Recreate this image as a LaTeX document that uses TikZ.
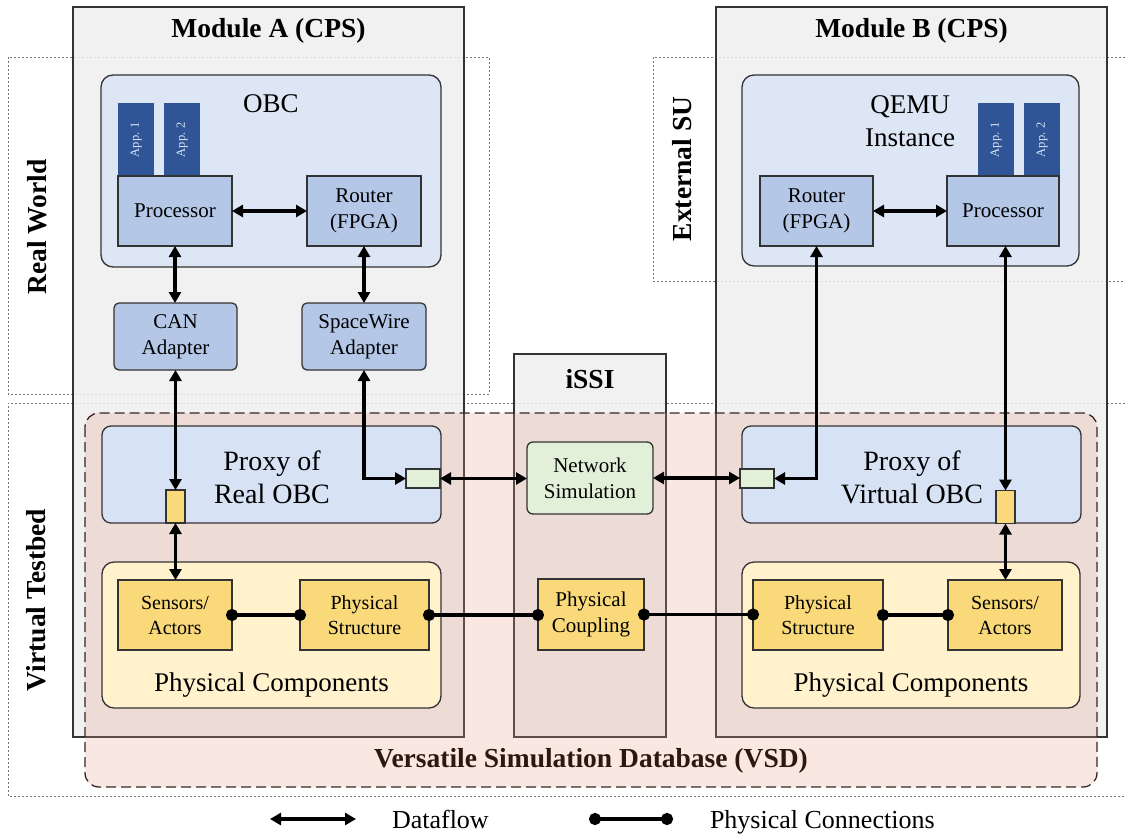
\documentclass[tikz,border=0pt]{standalone}
\usepackage{fontspec}
\setmainfont{Liberation Serif}
\usetikzlibrary{arrows.meta,calc}
\definecolor{modfill}{HTML}{EEEEEE}
\definecolor{obcfill}{HTML}{DCE6F4}
\definecolor{procfill}{HTML}{B4C7E7}
\definecolor{appblue}{HTML}{2F5597}
\definecolor{apptext}{HTML}{DDE6F5}
\definecolor{proxyfill}{HTML}{D7E3F5}
\definecolor{pcfill}{HTML}{FFF2CC}
\definecolor{yelfill}{HTML}{F9D97A}
\definecolor{grnfill}{HTML}{E2F0D9}
\definecolor{vsdfill}{HTML}{E6A08A}
\definecolor{vsdline}{HTML}{3A2520}
\definecolor{vsdtext}{HTML}{2E170F}
\newcommand{\fsz}[2]{\fontsize{#1}{#2}\selectfont}
\begin{document}
\begin{tikzpicture}[x=1pt,y=-1pt,
  every node/.style={inner sep=0pt, outer sep=0pt},
  dotbox/.style={draw=black!55, line width=0.8pt, dash pattern=on 2pt off 2pt},
  modbox/.style={draw=black!80, line width=1.3pt, fill=modfill, fill opacity=0.85},
  blk/.style={draw=black!80, line width=1.3pt},
  obcbox/.style={blk, fill=obcfill, rounded corners=12pt},
  procbox/.style={blk, fill=procfill, font=\fsz{21}{26}, align=center},
  adapt/.style={blk, fill=procfill, rounded corners=5pt, font=\fsz{21}{26}, align=center},
  appbox/.style={fill=appblue, text=apptext, font=\fsz{12.5}{14}},
  proxybox/.style={blk, fill=proxyfill, rounded corners=9pt},
  pcbox/.style={blk, fill=pcfill, rounded corners=12pt},
  yelbox/.style={blk, fill=yelfill, font=\fsz{20}{25}, align=center},
  netbox/.style={blk, fill=grnfill, rounded corners=6pt, font=\fsz{21}{26}, align=center},
  gport/.style={blk, fill=grnfill, minimum width=34, minimum height=19},
  yport/.style={blk, fill=yelfill, minimum width=19, minimum height=33},
  hdr/.style={font=\fsz{27.5}{30}\bfseries},
  big/.style={font=\fsz{27}{33}, align=center},
  df/.style={line width=3.4pt, {Triangle[length=11pt,width=12pt]}-{Triangle[length=11pt,width=12pt]}},
  pc/.style={line width=3.4pt, {Circle[length=12pt]}-{Circle[length=12pt]}, shorten <=-6pt, shorten >=-6pt}
]
\useasboundingbox (0,0) rectangle (1125,836);

% dotted region frames
\draw[dotbox] (8,57) rectangle (489,394);
\draw[dotbox] (1125,57) -- (653,57) -- (653,281) -- (1125,281);
\draw[dotbox] (1125,403) -- (8,403) -- (8,796) -- (1125,796);

% module containers
\node[modbox, minimum width=391, minimum height=730] (modA) at (268.5,372) {};
\node[modbox, minimum width=391, minimum height=730] (modB) at (911.5,372) {};
\node[modbox, minimum width=152, minimum height=383] (issi) at (590,545.5) {};

% VSD fill
\fill[vsdfill, fill opacity=0.25, rounded corners=14pt] (85,413) rectangle (1097,787);

% Module A content
\node[obcbox, minimum width=340, minimum height=192] (obc) at (271,171) {};
\node[appbox, minimum width=36, minimum height=73] (appA1) at (136,139.5) {\rotatebox{90}{App. 1}};
\node[appbox, minimum width=36, minimum height=73] (appA2) at (182,139.5) {\rotatebox{90}{App. 2}};
\node[procbox, minimum width=114, minimum height=70] (procA) at (175,211) {Processor};
\node[procbox, minimum width=114, minimum height=70] (routA) at (364,211) {Router\\(FPGA)};
\node[adapt, minimum width=123, minimum height=67] (can) at (175.5,336.5) {CAN\\Adapter};
\node[adapt, minimum width=124, minimum height=67] (spw) at (364,336.5) {SpaceWire\\Adapter};

% Module B content
\node[obcbox, minimum width=337, minimum height=191] (qemu) at (910.5,170.5) {};
\node[appbox, minimum width=36, minimum height=73] (appB1) at (996,139.5) {\rotatebox{90}{App. 1}};
\node[appbox, minimum width=36, minimum height=73] (appB2) at (1042,139.5) {\rotatebox{90}{App. 2}};
\node[procbox, minimum width=113, minimum height=70] (routB) at (816.5,211) {Router\\(FPGA)};
\node[procbox, minimum width=112, minimum height=70] (procB) at (1003,211) {Processor};

% Virtual testbed content
\node[proxybox, minimum width=339, minimum height=97] (proxyA) at (271.5,474.5) {};
\node[proxybox, minimum width=339, minimum height=97] (proxyB) at (911.5,474.5) {};
\node[pcbox, minimum width=339, minimum height=146] (pcA) at (271.5,635) {};
\node[pcbox, minimum width=338, minimum height=146] (pcB) at (911,635) {};
\node[yelbox, minimum width=114, minimum height=70] (sensA) at (175,615) {Sensors/\\Actors};
\node[yelbox, minimum width=129, minimum height=70] (psA) at (364.5,615) {Physical\\Structure};
\node[yelbox, minimum width=130, minimum height=70] (psB) at (818,615) {Physical\\Structure};
\node[yelbox, minimum width=114, minimum height=70] (sensB) at (1005,615) {Sensors/\\Actors};
\node[netbox, minimum width=126, minimum height=72] (netsim) at (590,478) {Network\\Simulation};
\node[yelbox, minimum width=106, minimum height=71, font=\fsz{21}{26}] (coup) at (591,614.5) {Physical\\Coupling};

\node[yport] (pYA) at (175.5,506.5) {};
\node[gport] (pGA) at (423,478.5) {};
\node[gport] (pGB) at (757,478.5) {};
\node[yport] (pYB) at (1005.5,507) {};

% VSD border
\draw[vsdline, line width=1.3pt, dash pattern=on 10pt off 5pt, rounded corners=14pt] (85,413) rectangle (1097,787);

% dataflow connectors
\draw[df] (procA) -- (routA);
\draw[df] (routB) -- (procB);
\draw[df] (procA.south) -- (procA.south |- can.north);
\draw[df] (routA.south) -- (routA.south |- spw.north);
\draw[df] (can.south -| pYA) -- (pYA.north);
\draw[df] (spw.south) |- (pGA.west);
\draw[df] (pGA.east) -- (pGA.east -| netsim.west);
\draw[df] (netsim.east) -- (netsim.east -| pGB.west);
\draw[df] (routB.south) |- (pGB.east);
\draw[df] (procB.south -| pYB) -- (pYB.north);
\draw[df] (pYA.south) -- (pYA.south |- sensA.north);
\draw[df] (pYB.south) -- (pYB.south |- sensB.north);

% physical connections
\draw[pc] (sensA.east) -- (psA.west);
\draw[pc] (psA.east) -- (psA.east -| coup.west);
\draw[pc] (coup.east) -- (coup.east -| psB.west);
\draw[pc] (psB.east) -- (psB.east -| sensB.west);

% labels
\node[hdr] (labA) at (268.5,31) {Module A (CPS)};
\node[hdr] (labB) at (911.5,31) {Module B (CPS)};
\node[hdr] (labI) at (590,379) {iSSI};
\node[hdr, text=vsdtext] (labV) at (591,761) {Versatile Simulation Database (VSD)};
\node[hdr, rotate=90] (labRW) at (37,227) {Real World};
\node[hdr, rotate=90] (labVT) at (36,600) {Virtual Testbed};
\node[hdr, rotate=90] (labES) at (682,169) {External SU};
\node[big] (labOBC) at (271,104) {OBC};
\node[big] (labQ) at (910,121) {QEMU\\Instance};
\node[big, font=\fsz{28}{33}] (labPA) at (272,477) {Proxy of\\Real OBC};
\node[big, font=\fsz{28}{33}] (labPB) at (912,477) {Proxy of\\Virtual OBC};
\node[big] (labCA) at (271.5,685) {Physical Components};
\node[big] (labCB) at (911,685) {Physical Components};

% legend
\coordinate (l1a) at (270,819);
\coordinate (l1b) at (356,819);
\coordinate (l2a) at (595,819);
\coordinate (l2b) at (667,819);
\draw[df] (l1a) -- (l1b);
\draw[pc] (l2a) -- (l2b);
\node[anchor=base west, font=\fsz{26}{30}] (legD) at (392,828) {Dataflow};
\node[anchor=base west, font=\fsz{26}{30}] (legP) at (710,828) {Physical Connections};
\end{tikzpicture}
\end{document}
